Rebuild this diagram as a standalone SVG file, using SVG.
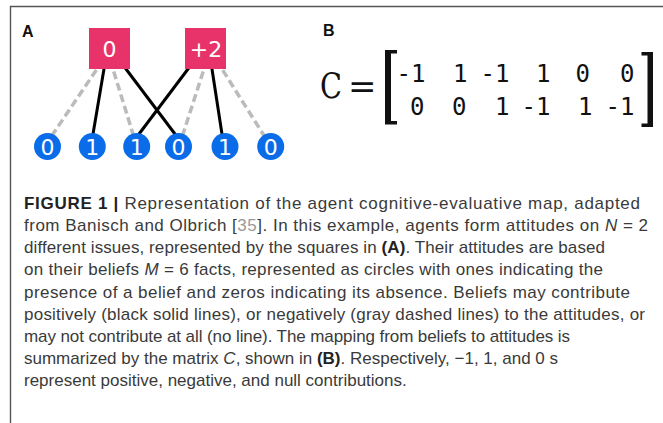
<svg xmlns="http://www.w3.org/2000/svg" width="663" height="423" viewBox="0 0 663 423">
<style>
.frame{stroke:#555;stroke-width:1.4;fill:none}
.lbl{font-family:"Liberation Sans",Arial,sans-serif;font-weight:bold;font-size:16px;fill:#111}
.sq{fill:#e8336a}
.ci{fill:#0a6ce8}
.nt{font-family:"DejaVu Sans",sans-serif;font-size:22px;fill:#fff;text-anchor:middle}
.pos{stroke:#000;stroke-width:3;fill:none}
.neg{stroke:#bbb;stroke-width:3.5;stroke-dasharray:8 4;fill:none}
.m{font-family:"DejaVu Sans Mono",monospace;font-size:24px;fill:#111;text-anchor:end}
.cap{font-family:"Liberation Sans",Arial,sans-serif;font-size:17px;fill:#3a3a3a}
.b{font-weight:bold;fill:#222}
.i{font-style:italic}
</style>
<path class="frame" d="M10.5,423 V6.5 H663"/>
<text class="lbl" x="22" y="36.5">A</text>
<text class="lbl" x="323" y="36">B</text>
<g id="connectors">
<line class="neg" x1="103.1" y1="60" x2="48.9" y2="140"/>
<line class="pos" x1="105.5" y1="60" x2="92" y2="140"/>
<line class="neg" x1="110.2" y1="60" x2="134.8" y2="140"/>
<line class="pos" x1="119.2" y1="60" x2="179.5" y2="140"/>
<line class="pos" x1="194.8" y1="60" x2="134.5" y2="140"/>
<line class="neg" x1="206.9" y1="60" x2="181.1" y2="140"/>
<line class="pos" x1="210.6" y1="60" x2="222.9" y2="140"/>
<line class="neg" x1="216.3" y1="60" x2="266.8" y2="140"/>
</g>
<g id="issue1"><rect class="sq" x="89" y="28" width="41" height="41"/><text class="nt" x="109.5" y="57">0</text></g>
<g id="issue2"><rect class="sq" x="185" y="28" width="41" height="41"/><text class="nt" x="206" y="57">+2</text></g>
<g id="belief1"><circle class="ci" cx="47.5" cy="146.5" r="13.5"/><text class="nt" x="47.5" y="155">0</text></g>
<g id="belief2"><circle class="ci" cx="92.3" cy="146.5" r="13.5"/><text class="nt" x="92.3" y="155">1</text></g>
<g id="belief3"><circle class="ci" cx="136.7" cy="146.5" r="13.5"/><text class="nt" x="136.7" y="155">1</text></g>
<g id="belief4"><circle class="ci" cx="178.5" cy="146.5" r="13.5"/><text class="nt" x="178.5" y="155">0</text></g>
<g id="belief5"><circle class="ci" cx="225" cy="146.5" r="13.5"/><text class="nt" x="225" y="155">1</text></g>
<g id="belief6"><circle class="ci" cx="270.7" cy="146.5" r="13.5"/><text class="nt" x="270.7" y="155">0</text></g>
<g id="matrix">
<text transform="translate(320,98) scale(0.82,1)" style="font-family:'DejaVu Serif',serif;font-size:35px;fill:#111">C</text>
<text x="348" y="98" style="font-family:'DejaVu Serif',serif;font-size:34px;fill:#111">=</text>
<path d="M385,50 H397 V53.5 H391 V121 H397 V124.5 H385 Z" fill="#111"/>
<path d="M653,52 H641.5 V55.5 H647.5 V123.5 H641.5 V127 H653 Z" fill="#111"/>
<text class="m" x="425.5" y="82">-1</text>
<text class="m" x="467.5" y="82">1</text>
<text class="m" x="509.5" y="82">-1</text>
<text class="m" x="550.5" y="82">1</text>
<text class="m" x="590" y="82">0</text>
<text class="m" x="634.5" y="82">0</text>
<text class="m" x="424.5" y="115">0</text>
<text class="m" x="466.5" y="115">0</text>
<text class="m" x="509.5" y="115">1</text>
<text class="m" x="550.5" y="115">-1</text>
<text class="m" x="592.5" y="115">1</text>
<text class="m" x="634.5" y="115">-1</text>
</g>
<g id="caption">
<text class="cap" x="24" y="209" textLength="616"><tspan class="b">FIGURE 1 |</tspan> Representation of the agent cognitive-evaluative map, adapted</text>
<text class="cap" x="24" y="231" textLength="624">from Banisch and Olbrich [<tspan fill="#999">35</tspan>]. In this example, agents form attitudes on <tspan class="i">N</tspan> = 2</text>
<text class="cap" x="24" y="253" textLength="581">different issues, represented by the squares in <tspan class="b">(A)</tspan>. Their attitudes are based</text>
<text class="cap" x="24" y="275" textLength="579">on their beliefs <tspan class="i">M</tspan> = 6 facts, represented as circles with ones indicating the</text>
<text class="cap" x="24" y="297.5" textLength="606">presence of a belief and zeros indicating its absence. Beliefs may contribute</text>
<text class="cap" x="24" y="319.5" textLength="621">positively (black solid lines), or negatively (gray dashed lines) to the attitudes, or</text>
<text class="cap" x="24" y="341.5" textLength="546">may not contribute at all (no line). The mapping from beliefs to attitudes is</text>
<text class="cap" x="24" y="363.5">summarized by the matrix <tspan class="i">C</tspan>, shown in <tspan class="b">(B)</tspan>. Respectively, −1, 1, and 0 s</text>
<text class="cap" x="24" y="385.5">represent positive, negative, and null contributions.</text>
</g>
</svg>
